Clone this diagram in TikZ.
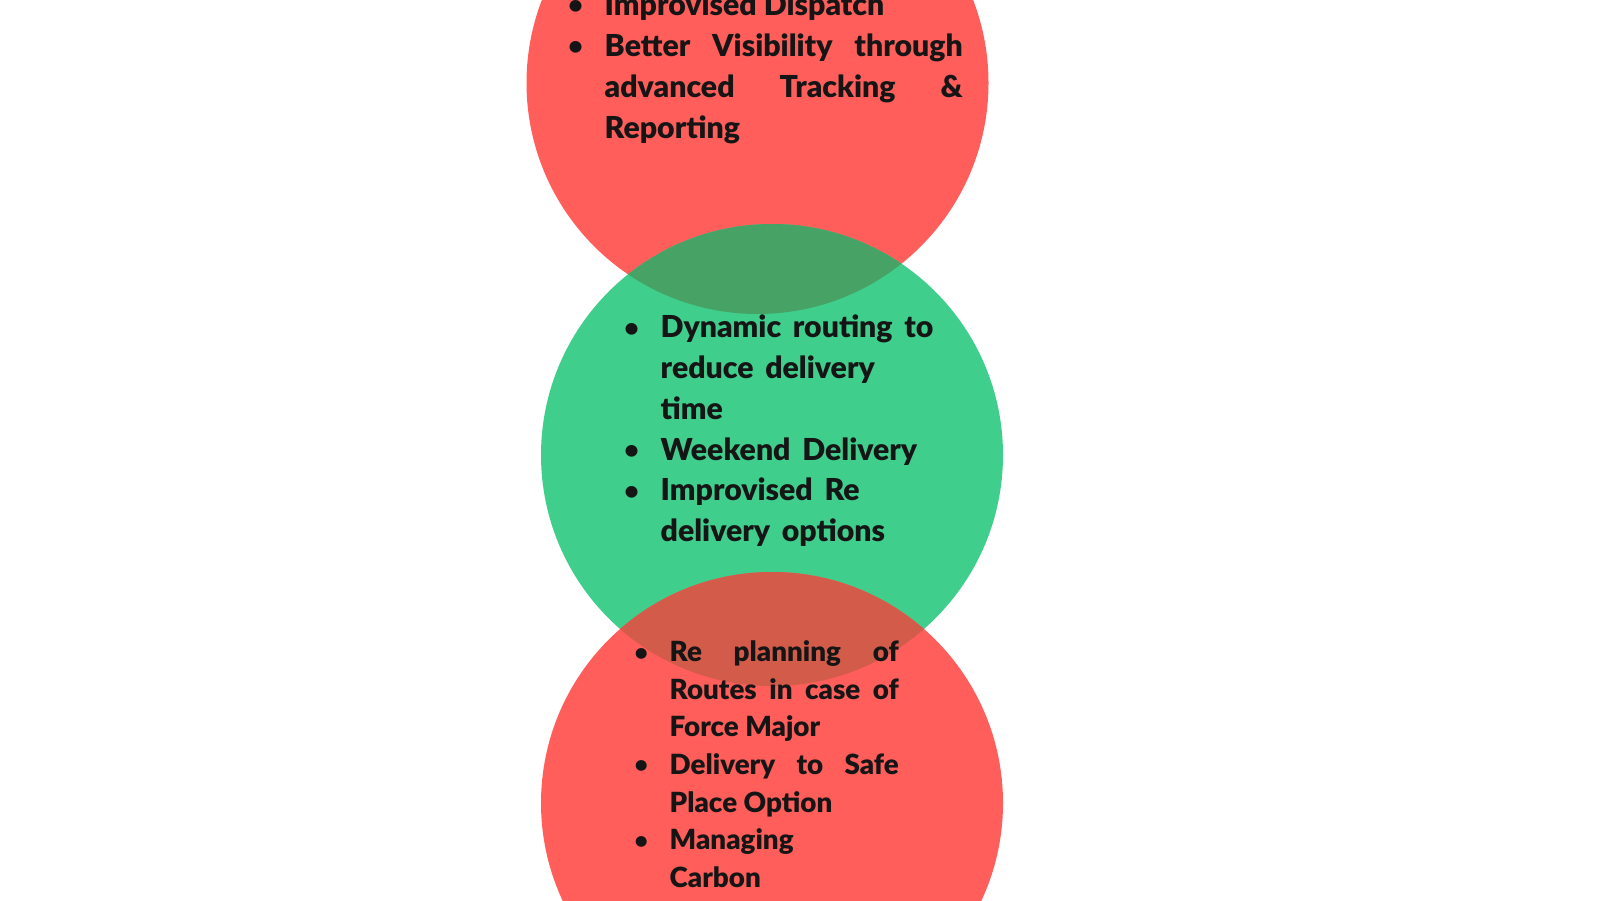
\documentclass[tikz,border=0pt]{standalone}
\usepackage{fontspec}
\setmainfont{Lato}[BoldFont={Lato Black}]
\usepackage{enumitem}
\usepackage{xcolor}
\usetikzlibrary{shapes.geometric, positioning}

\definecolor{rouge}{HTML}{FF5E5B}
\definecolor{vert}{HTML}{3FCE8C}
\definecolor{vertfonce}{HTML}{47A365}
\definecolor{rougefonce}{HTML}{D35B4A}
\definecolor{encre}{HTML}{151515}

\tikzset{
  bulle/.style={circle, inner sep=0pt, minimum size=4.62cm},
  liste/.style={anchor=base west, inner sep=0pt, text=encre, font=\bfseries}
}
\newlist{puces}{itemize}{1}
\setlist[puces]{label=\raisebox{0.1ex}{\scalebox{0.8}{\textbullet}}, leftmargin=0.31cm, labelsep=0.22cm,
  itemsep=0pt, topsep=0pt, parsep=0pt, partopsep=0pt}

\begin{document}
\begin{tikzpicture}
        \useasboundingbox (0,0) rectangle (16,9);
        \clip (0,0) rectangle (16,9);

        % Cercles
        \node[bulle, fill=rouge] (haut) at (7.575,8.17) {};
        \node[bulle, fill=vert] (milieu) at (7.72,4.45) {};
        \node[bulle, fill=rouge] (bas) at (7.72,0.97) {};

        % Intersections
        \begin{scope}
            \clip (haut.center) circle (2.31cm);
            \fill[vertfonce] (milieu.center) circle (2.31cm);
        \end{scope}
        \begin{scope}
            \clip (milieu.center) circle (2.31cm);
            \fill[rougefonce] (bas.center) circle (2.31cm);
        \end{scope}

        % Textes
        \node[liste, text width=3.89cm, align=justify] (texthaut) at (5.73,9.26) {%
          \fontsize{8.6}{11.7}\selectfont
          \begin{puces}
            \item Improvised Dispatch
            \item Better Visibility through\linebreak advanced Tracking \&\linebreak Reporting
          \end{puces}};
        \node[liste, text width=3.3cm, align=left] (textmilieu) at (6.29,6.03) {%
          \fontsize{8.6}{11.6}\selectfont
          \begin{puces}
            \item Dynamic routing to\newline reduce delivery\newline time
            \item Weekend Delivery
            \item Improvised Re\newline delivery options
          \end{puces}};
        \node[liste, text width=2.6cm, align=justify] (textbas) at (6.38,2.76) {%
          \fontsize{7.9}{10.7}\selectfont
          \begin{puces}
            \item Re planning of\linebreak Routes in case of\linebreak Force Major
            \item Delivery to Safe\linebreak Place Option
            \item Managing\newline Carbon
          \end{puces}};
\end{tikzpicture}
\end{document}
